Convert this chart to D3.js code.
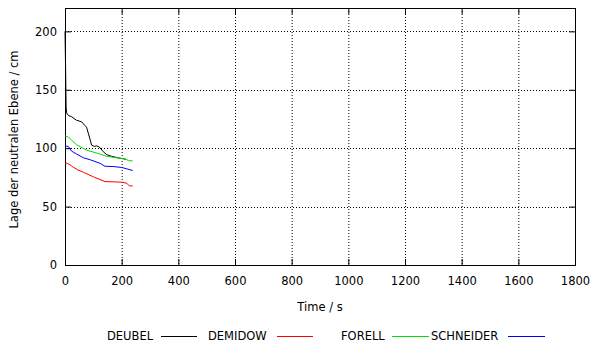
<!DOCTYPE html>
<html><head><meta charset="utf-8">
<script src="https://cdn.jsdelivr.net/npm/d3@7"></script>
<style>body{margin:0;background:#fff}svg{display:block}text{font-family:"DejaVu Sans",Verdana,sans-serif;font-size:11.5px;fill:#000}</style>
</head><body><svg id="c" width="592" height="347"></svg>
<script>
const xTicks=[0,200,400,600,800,1000,1200,1400,1600,1800];
const yTicks=[0,50,100,150,200];
const seriesNames=["DEUBEL","DEMIDOW","FORELL","SCHNEIDER"];
const seriesColors=["#000000","#ff0000","#00dd00","#0000ff"];
const deubel=[[0,200],[2,170],[4,135],[6,130],[12,128],[23,127],[40,124],[59,122.5],[70,119.5],[76,118],[82,113],[88,108],[94,102.5],[104,101.5],[112,102],[121,101],[135,97],[147,94.5],[165,93],[194,91.4],[215,90.5]];
const demidow=[[0,87.5],[8,87],[18,85.7],[29,83.7],[45,81.5],[65,79.4],[100,75.5],[141,71.4],[170,71.2],[200,70.9],[218,70],[227,67.7],[239,67.7]];
const forell=[[0,110.6],[12,109.4],[23,107],[41,102.9],[76,98.3],[110,96],[147,93],[194,91.4],[210,91],[224,89.4],[239,89.1]];
const schneider=[[0,102],[12,101.4],[23,97.5],[41,95],[65,91.8],[90,90],[124,87],[141,84.5],[170,84.3],[200,83.5],[218,82.3],[239,80.9]];
const data=[deubel,demidow,forell,schneider];

const svg=d3.select("#c");
const L=65,R=575,T=8,B=265;
const x=d3.scaleLinear().domain([0,1800]).range([L,R]);
const y=d3.scaleLinear().domain([0,220]).range([B,T]);

// grid
svg.append("g").selectAll("line").data(xTicks.filter(d=>d>0&&d<1800)).join("line")
 .attr("x1",d=>x(d)+0.5).attr("x2",d=>x(d)+0.5).attr("y1",T).attr("y2",B)
 .attr("stroke","#000").attr("stroke-width",1).attr("stroke-dasharray","1,2");
svg.append("g").selectAll("line").data(yTicks.filter(d=>d>0)).join("line")
 .attr("y1",d=>Math.round(y(d))+0.5).attr("y2",d=>Math.round(y(d))+0.5).attr("x1",L).attr("x2",R)
 .attr("stroke","#000").attr("stroke-width",1).attr("stroke-dasharray","1,2");

// axes
svg.append("g").attr("transform",`translate(0,${B})`).call(d3.axisBottom(x).tickValues(xTicks).tickSize(-6).tickPadding(12).tickFormat(d3.format("d")));
svg.append("g").attr("transform",`translate(${L},0)`).call(d3.axisLeft(y).tickValues(yTicks).tickSize(-6).tickPadding(8).tickFormat(d3.format("d")));
svg.append("g").attr("transform",`translate(${R},0)`).call(d3.axisRight(y).tickValues(yTicks).tickSize(-6).tickFormat(""));
svg.append("g").attr("transform",`translate(0,${T})`).call(d3.axisTop(x).tickValues(xTicks).tickSize(-6).tickFormat(""));
svg.selectAll(".domain").attr("stroke","#000");
svg.selectAll(".tick text").style("font-family",'"DejaVu Sans",Verdana,sans-serif').style("font-size","11.5px");
svg.selectAll(".tick line").attr("stroke","#000");

// lines
const line=d3.line().x(d=>x(d[0])).y(d=>y(d[1]));
data.forEach((s,i)=>{
 svg.append("path").datum(s).attr("d",line).attr("fill","none").attr("stroke",seriesColors[i]).attr("stroke-width",1);
});

// labels
svg.append("text").attr("x",(L+R)/2).attr("y",311).attr("text-anchor","middle").text("Time / s");
svg.append("text").attr("transform",`translate(18,${(T+B)/2+3}) rotate(-90)`).attr("text-anchor","middle").text("Lage der neutralen Ebene / cm");

// legend
const legTextX=[107,208,341,431];
const legLine=[[161,197],[277,313],[392,429],[508,545]];
const lg=svg.append("g");
seriesNames.forEach((n,i)=>{
 lg.append("text").attr("x",legTextX[i]).attr("y",340).text(n);
 lg.append("line").attr("x1",legLine[i][0]).attr("x2",legLine[i][1]).attr("y1",336.5).attr("y2",336.5).attr("stroke",seriesColors[i]).attr("stroke-width",1);
});
</script></body></html>
